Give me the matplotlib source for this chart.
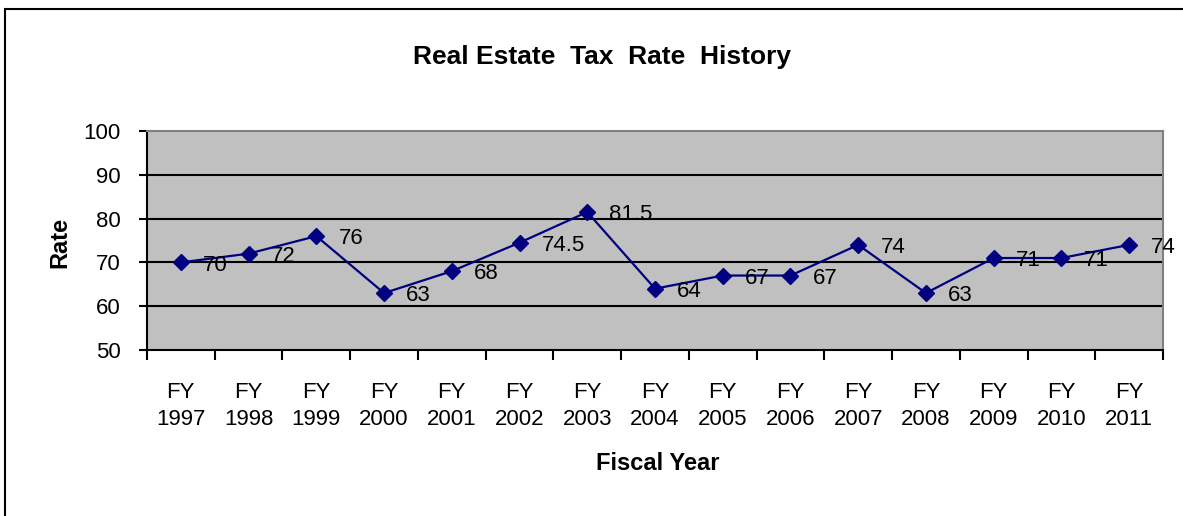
import matplotlib
matplotlib.use("Agg")
import matplotlib.pyplot as plt
from matplotlib.patches import Rectangle
import numpy as np

years = ["1997", "1998", "1999", "2000", "2001", "2002", "2003", "2004",
         "2005", "2006", "2007", "2008", "2009", "2010", "2011"]
rates = [70, 72, 76, 63, 68, 74.5, 81.5, 64, 67, 67, 74, 63, 71, 71, 74]
labels = ["FY\n" + y for y in years]

plt.rcParams['font.family'] = ['Liberation Sans', 'DejaVu Sans']

fig = plt.figure(figsize=(11.83, 5.16), dpi=100)
ax = fig.add_axes([147 / 1183, 166 / 516, 1016 / 1183, 219 / 516])
ax.set_facecolor('#C0C0C0')

x = np.arange(len(rates))
ax.plot(x, rates, color='#000080', lw=1.6, marker='D', ms=8, zorder=3)
for xi, v in zip(x, rates):
    ax.annotate(f"{v:g}", (xi, v), xytext=(16, -2), textcoords='offset points',
                ha='left', va='center', fontsize=16, color='black', zorder=4)

ax.set_xlim(-0.5, len(rates) - 0.5)
ax.set_ylim(50, 100)
ax.set_yticks([50, 60, 70, 80, 90, 100])
for y in [60, 70, 80, 90]:
    ax.axhline(y, color='black', lw=1.5, zorder=1)

# category boundaries carry the tick marks, labels sit at the centres
ax.set_xticks(np.arange(-0.5, len(rates)), labels=[''] * (len(rates) + 1))
ax.set_xticks(x, labels=labels, minor=True)
ax.tick_params(axis='x', which='major', length=7, width=1.5, direction='out')
ax.tick_params(axis='x', which='minor', length=0, pad=23, labelsize=16)
for t in ax.get_xticklabels(minor=True):
    t.set_linespacing(1.35)
ax.tick_params(axis='y', length=6, width=1.5, pad=13, labelsize=16)

for s in ['top', 'right']:
    ax.spines[s].set_color('#808080')
    ax.spines[s].set_linewidth(1.5)
for s in ['left', 'bottom']:
    ax.spines[s].set_color('black')
    ax.spines[s].set_linewidth(1.5)

fig.text(602 / 1183, 1 - 57 / 516, "Real Estate  Tax  Rate  History", ha='center',
         va='center', fontsize=19, fontweight='bold')
fig.text(658 / 1183, 1 - 463 / 516, "Fiscal Year", ha='center', va='center',
         fontsize=17, fontweight='bold')
fig.text(60 / 1183, 1 - 242 / 516, "Rate", ha='center', va='center',
         fontsize=17, fontweight='bold', rotation=90)

fig.add_artist(Rectangle((5 / 1183, -0.1), 1.2, 1 - 9 / 516 + 0.1, transform=fig.transFigure,
                         fill=False, edgecolor='black', lw=1.5))

fig.savefig("out.png", dpi=100)
